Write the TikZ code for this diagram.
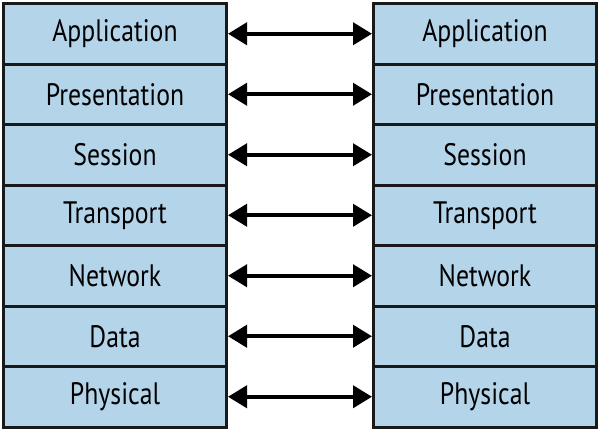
\documentclass[tikz,border=0pt]{standalone}
\usepackage{fontspec}
\setmainfont[FakeStretch=0.83]{PT Sans}
\usetikzlibrary{arrows.meta}
\definecolor{layerblue}{RGB}{180,212,234}

\begin{document}
\begin{tikzpicture}[x=1pt,y=-1pt]
  \tikzset{layer box/.style={draw=black!90,line width=3pt,fill=layerblue,
      minimum width=223pt,minimum height=60.5pt,inner sep=0pt,
      font=\fontsize{31}{31}\selectfont},
    peer arrow/.style={line width=4pt,{Triangle[length=19pt,width=22pt]}-{Triangle[length=19pt,width=22pt]}}}

  \useasboundingbox (0,0) rectangle (600,431);

  % the two stacks, one layer per row
  \foreach \name [count=\i from 0] in {Application,Presentation,Session,Transport,Network,Data,Physical} {
    \node [layer box] (L\i) at (115,33.75+60.5*\i) {\name};
    \node [layer box] (R\i) at (485,33.75+60.5*\i) {\name};
    \draw [peer arrow] (L\i.east) -- (R\i.west);
  }
\end{tikzpicture}
\end{document}
